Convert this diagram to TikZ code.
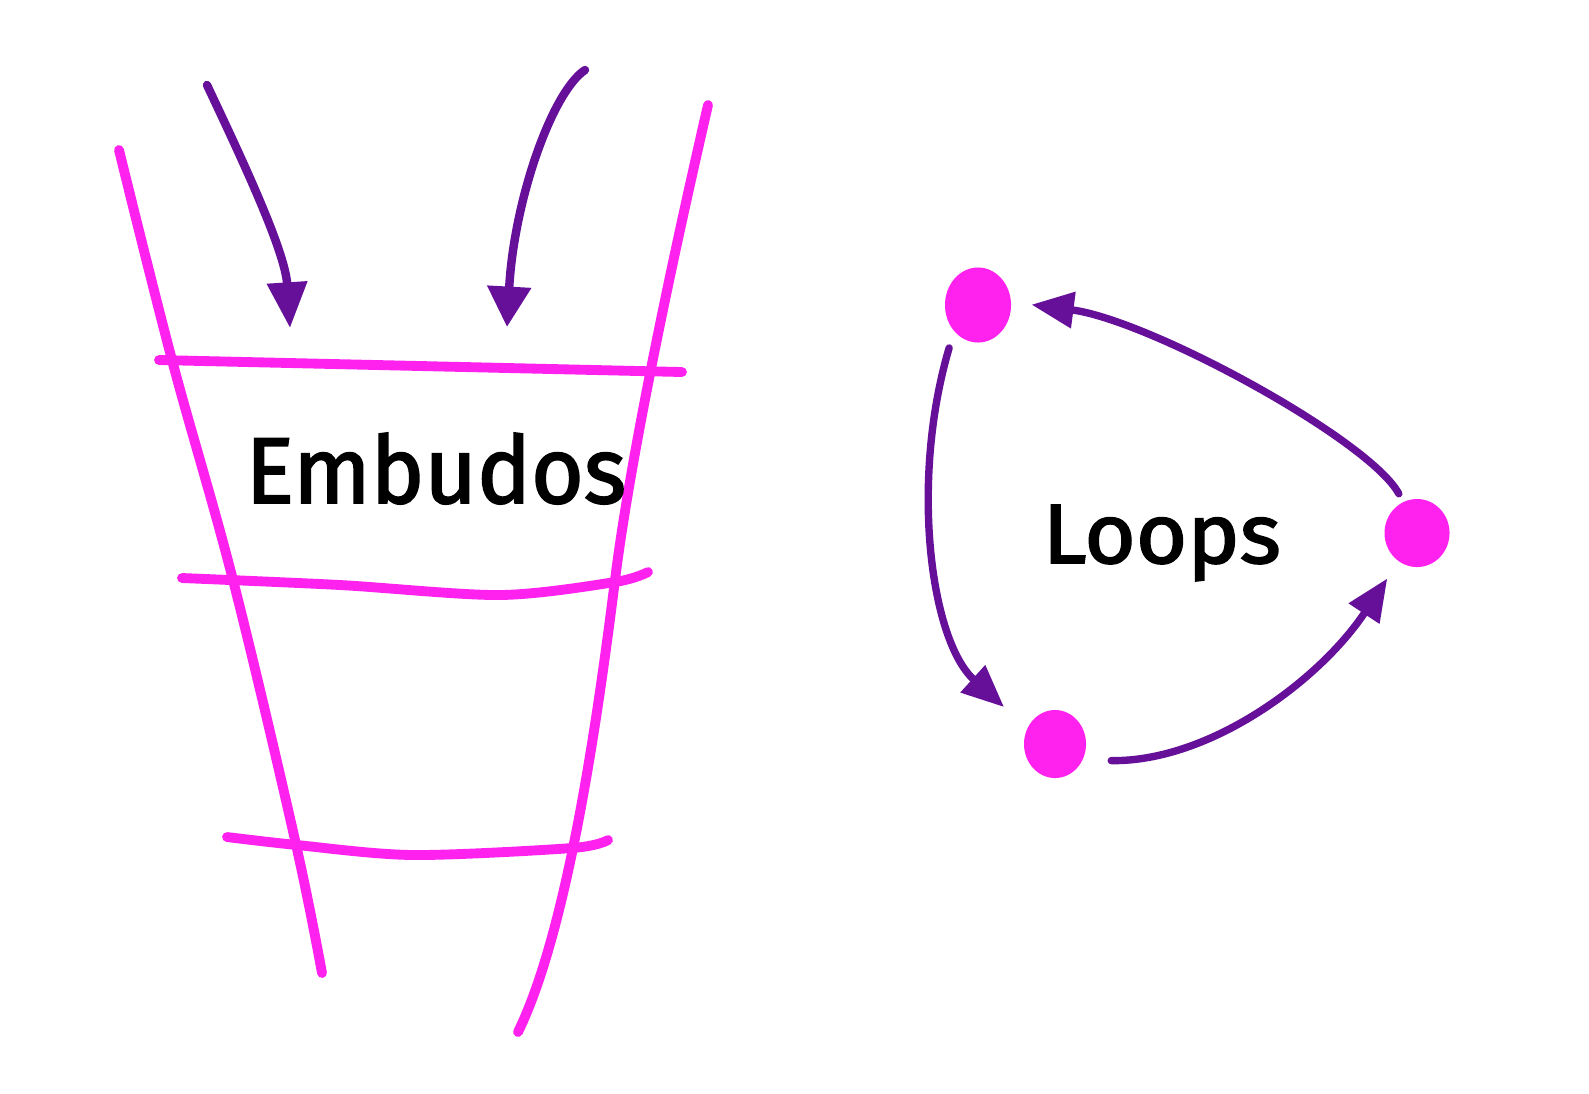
\documentclass[tikz,border=0pt]{standalone}
\usepackage{fontspec}
\usepackage{graphicx}
\setmainfont{Fira Sans}
\newfontfamily\handfont{Fira Sans}[FakeBold=2]
\usetikzlibrary{arrows.meta,shapes.geometric}
\definecolor{mag}{HTML}{FF22EE}
\definecolor{purp}{HTML}{66109A}
\begin{document}
\begin{tikzpicture}[x=0.01cm,y=-0.01cm,
  funnel/.style={draw=mag, line width=2.8pt, line cap=round, line join=round},
  inarrow/.style={draw=purp, line width=2.4pt, line cap=round, -{Triangle[length=13pt,width=11pt]}},
  looparrow/.style={draw=purp, line width=2.1pt, line cap=round, -{Triangle[length=12pt,width=10pt]}},
  dot/.style={ellipse, fill=mag, inner sep=0pt},
  txt/.style={inner sep=0pt, anchor=base west, font=\handfont}]
\path[use as bounding box] (0,0) rectangle (1589,1093);

% funnel
\draw[funnel] plot[smooth, tension=0.6] coordinates {(119,150) (172,360) (233,580) (295,840) (322,973)};
\draw[funnel] (708,105) .. controls (670,270) and (630,460) .. (615,580)
                        .. controls (598,715) and (568,930) .. (518,1032);
\draw[funnel] plot[smooth] coordinates {(159,360) (420,366) (682,372)};
\draw[funnel] plot[smooth] coordinates {(182,578) (340,585) (500,595) (615,582) (648,572)};
\draw[funnel] plot[smooth] coordinates {(227,837) (297,845) (413,855) (572,848) (608,840)};

% incoming arrows
\coordinate (la) at (207,85);
\coordinate (lb) at (290,328);
\coordinate (ra) at (585,70);
\coordinate (rb) at (507,327);
\draw[inarrow] (la) .. controls (240,155) and (285,250) .. (lb);
\draw[inarrow, -{Triangle[length=11.5pt,width=12pt]}] (ra) .. controls (552,92) and (514,200) .. (rb);

\node[txt] (emb) at (245,503) {\resizebox{3.8cm}{0.7cm}{Embudos}};

% loops
\node[dot, minimum width=0.66cm, minimum height=0.75cm] (A) at (978,305) {};
\node[dot, minimum width=0.65cm, minimum height=0.68cm] (B) at (1417,533) {};
\node[dot, minimum width=0.62cm, minimum height=0.68cm] (C) at (1055,744) {};

\draw[looparrow, shorten <=4.8pt, shorten >=8.8pt] (A.228) .. controls (910,480) and (930,640) .. (C.150);
\draw[looparrow, shorten <=8pt, shorten >=5.7pt] (C.-30) .. controls (1210,762) and (1320,680) .. (B.237);
\draw[looparrow, shorten <=2.5pt, shorten >=5.7pt] (B.114) .. controls (1370,440) and (1150,320) .. (A.5);

\node[txt] (loops) at (1042,563) {\resizebox{2.38cm}{0.58cm}{Loops}};
\end{tikzpicture}
\end{document}
